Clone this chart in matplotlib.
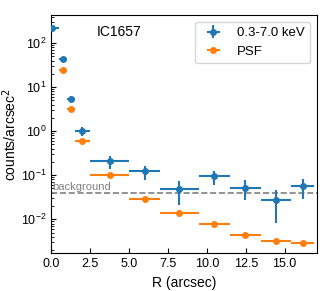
import matplotlib
matplotlib.use("Agg")
import matplotlib.pyplot as plt
import numpy as np

plt.rcParams['font.family'] = ['Liberation Sans', 'DejaVu Sans']

# radial bins (arcsec)
r = [0.03, 0.78, 1.26, 1.99, 3.79, 6.0, 8.2, 10.43, 12.43, 14.44, 16.17]
r_lo = [0.0, 0.5, 1.0, 1.5, 2.5, 5.0, 7.0, 9.5, 11.5, 13.45, 15.4]
r_hi = [0.5, 1.0, 1.5, 2.5, 5.0, 7.0, 9.5, 11.5, 13.45, 15.4, 16.9]

# source profile 0.3-7.0 keV
src = [219, 43, 5.4, 1.0, 0.21, 0.125, 0.048, 0.095, 0.0525, 0.028, 0.056]
src_lo = [205, 40, 4.6, 0.77, 0.142, 0.077, 0.0216, 0.0615, 0.028, 0.0084, 0.0296]
src_hi = [233, 46, 6.2, 1.25, 0.27, 0.163, 0.074, 0.125, 0.077, 0.047, 0.08]

# PSF profile
r_psf = r[1:]
psf = [24.3, 3.16, 0.61, 0.1, 0.029, 0.0137, 0.008, 0.0045, 0.0032, 0.0029]

background = 0.039

r = np.array(r)
xerr = [r - np.array(r_lo), np.array(r_hi) - r]
yerr = [np.array(src) - np.array(src_lo), np.array(src_hi) - np.array(src)]
xerr_psf = [xerr[0][1:], xerr[1][1:]]

fig, ax = plt.subplots(figsize=(3.24, 2.91), dpi=100)

ax.errorbar(r, src, xerr=xerr, yerr=yerr, fmt='o', ms=4, color='C0',
            label='0.3-7.0 keV', zorder=3)
ax.errorbar(r_psf, psf, xerr=xerr_psf, fmt='o', ms=4, color='C1',
            label='PSF', zorder=2)

ax.axhline(background, ls='--', color='gray', lw=1.2)
ax.text(0.1, background * 1.05, 'background', color='gray', fontsize=8,
        va='bottom', ha='left')
ax.text(0.173, 0.93, 'IC1657', transform=ax.transAxes, fontsize=10,
        va='center', ha='left')

ax.set_yscale('log')
ax.set_xlim(0, 17.07)
ax.set_ylim(0.0017, 430)
ax.set_xticks([0, 2.5, 5, 7.5, 10, 12.5, 15])
ax.set_xlabel('R (arcsec)', fontsize=10)
ax.set_ylabel('counts/arcsec$^2$', fontsize=10, labelpad=1)
ax.tick_params(which='both', direction='in', labelsize=9)
ax.legend(loc='upper right', fontsize=9.5)

fig.subplots_adjust(left=0.158, right=0.978, top=0.948, bottom=0.13)
fig.savefig('out.png', dpi=100)
